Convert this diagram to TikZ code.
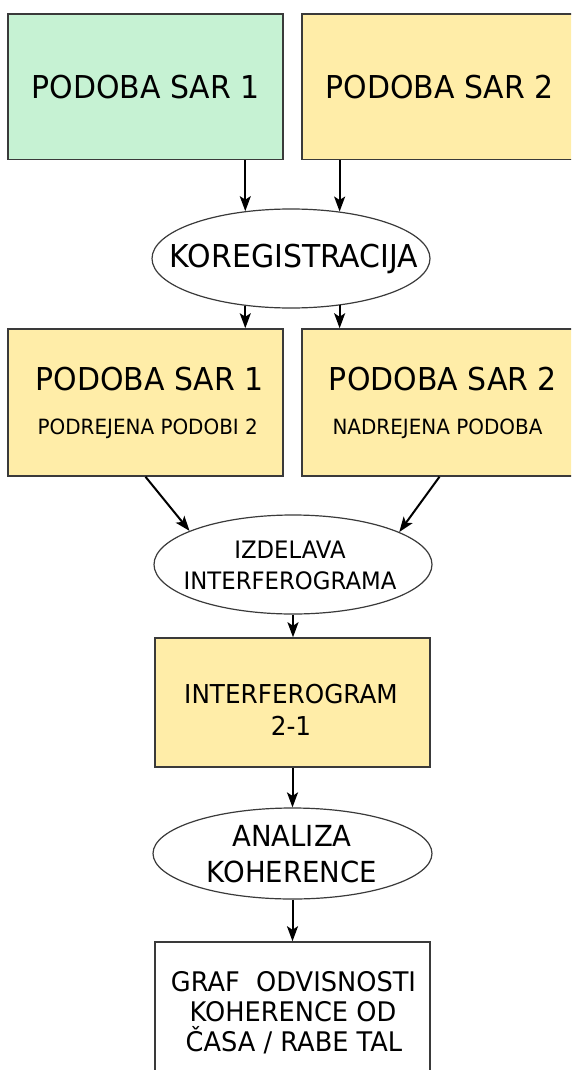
\documentclass[tikz,border=0pt]{standalone}
\usepackage{fontspec}
\setmainfont{DejaVu Sans}[FakeStretch=0.95]
\usetikzlibrary{arrows.meta,shapes.geometric}

\definecolor{sargreen}{HTML}{C6F2D3}
\definecolor{saryellow}{HTML}{FFEDA8}
\definecolor{edge}{HTML}{3A3A3A}

\begin{document}
\begin{tikzpicture}[x=1pt,y=-1pt,
  box/.style={rectangle, draw=edge, line width=1.5pt, minimum width=275pt, inner sep=0pt},
  oval/.style={ellipse, draw=edge, line width=1.2pt, fill=white, inner sep=0pt},
  txt/.style={anchor=base, inner sep=0pt},
  big/.style={font=\fontsize{31.5}{38}\selectfont},
  small/.style={font=\fontsize{21}{25}\selectfont},
  arr/.style={line width=2pt, -{Stealth[length=15pt,width=11pt,inset=3.5pt]}},
]
\useasboundingbox (0,0) rectangle (571,1070);
\clip (0,0) rectangle (571,1070);

% input images
\node[box, fill=sargreen, minimum height=145.5pt, big] (b1) at (145.5,86.75) {PODOBA SAR 1};
\node[box, fill=saryellow, minimum height=145.5pt, big] (b2) at (439.5,86.75) {PODOBA SAR 2};

% coregistration
\node[oval, minimum width=278pt, minimum height=99pt] (e1) at (291,258.5) {};
\node[txt, big] (e1t) at (294,267.5) {KOREGISTRACIJA};

% coregistered images
\node[box, fill=saryellow, minimum height=147pt] (b3) at (145.5,402.5) {};
\node[txt, big] (b3a) at (149.5,390) {PODOBA SAR 1};
\node[txt, small] (b3b) at (147.75,434.7) {PODREJENA PODOBI 2};
\node[box, fill=saryellow, minimum height=147pt] (b4) at (439.5,402.5) {};
\node[txt, big] (b4a) at (443,390) {PODOBA SAR 2};
\node[txt, small] (b4b) at (437.5,434.7) {NADREJENA PODOBA};

% interferogram generation
\node[oval, minimum width=278pt, minimum height=99pt] (e2) at (293,564.5) {};
\node[txt, font=\fontsize{24}{29}\selectfont] (e2a) at (290,558.5) {IZDELAVA};
\node[txt, font=\fontsize{24}{29}\selectfont] (e2b) at (290,589.5) {INTERFEROGRAMA};

% interferogram
\node[box, fill=saryellow, minimum height=129pt] (b5) at (292.5,702.5) {};
\node[txt, font=\fontsize{26}{31}\selectfont] (b5a) at (291,703) {INTERFEROGRAM};
\node[txt, font=\fontsize{26}{31}\selectfont] (b5b) at (291,735) {2-1};

% coherence analysis
\node[oval, minimum width=279pt, minimum height=91pt] (e3) at (292.5,853.5) {};
\node[txt, font=\fontsize{29}{35}\selectfont] (e3a) at (292,846) {ANALIZA};
\node[txt, font=\fontsize{29}{35}\selectfont] (e3b) at (292,882) {KOHERENCE};

% result
\node[box, fill=white, minimum height=145pt] (b6) at (292.5,1014.5) {};
\node[txt, font=\fontsize{27}{32}\selectfont] (b6a) at (293.5,991) {GRAF\ \ ODVISNOSTI};
\node[txt, font=\fontsize{27}{32}\selectfont] (b6b) at (293,1021) {KOHERENCE OD};
\node[txt, font=\fontsize{27}{32}\selectfont] (b6c) at (294,1051) {ČASA / RABE TAL};

% connectors
\draw[arr] (b1.south -| e1.134.56) -- (e1.134.56);
\draw[arr] (b2.south -| e1.44.06) -- (e1.44.06);
\draw[arr] (e1.-134.56) -- (e1.-134.56 |- b3.north);
\draw[arr] (e1.-44.06) -- (e1.-44.06 |- b4.north);
\draw[arr] (b3.south) -- (e2.162.4);
\draw[arr] (b4.south) -- (e2.17.5);
\draw[arr] (e2.south) -- (e2.south |- b5.north);
\draw[arr] (b5.south) -- (e3.north);
\draw[arr] (e3.south) -- (b6.north);
\end{tikzpicture}
\end{document}
